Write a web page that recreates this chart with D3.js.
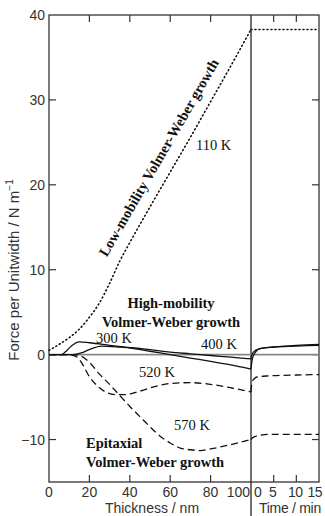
<!DOCTYPE html>
<html><head><meta charset="utf-8">
<script src="https://cdn.jsdelivr.net/npm/d3@7"></script>
<style>body{margin:0;background:#fff}svg{display:block}</style>
</head><body>
<script>
// ---- data ----
const thickTicks = [0,20,40,60,80,100];
const timeTicks = [0,5,10,15];
const forceTicks = [40,30,20,10,0,-10];

const t110 = [0,5,10,15,20,25,30,35,40,50,60,70,80,90,100];
const f110 = [0.5,1.2,2.0,3.0,4.4,6.1,8.4,11.0,13.2,17.4,21.5,25.6,29.8,34.0,38.3];
const r110t = [0,15];
const r110f = [38.3,38.3];

const t300 = [0,6,8,11,15,20,30,40,50,60,70,80,90,100];
const f300 = [0,0,0.3,1.0,1.5,1.4,1.1,0.8,0.4,0,-0.4,-0.8,-1.2,-1.7];
const r300t = [0,0.3,1,2,5,10,15];
const r300f = [-1.7,-0.5,0.3,0.7,0.9,1.1,1.2];

const t400 = [0,12,16,20,26,35,50,60,70,80,90,100];
const f400 = [0,0,0.2,0.6,1.0,0.9,0.6,0.3,0.1,-0.1,-0.3,-0.5];
const r400t = [0,0.3,1,2,5,10,15];
const r400f = [-0.5,0.1,0.5,0.7,0.9,1.0,1.1];

const t520 = [0,10,14,17,20,24,28,33,38,45,55,60,70,80,90,100];
const f520 = [0,0,-0.3,-1.3,-2.6,-3.7,-4.4,-4.7,-4.7,-4.3,-3.6,-3.4,-3.3,-3.5,-3.9,-4.4];
const r520t = [0,0.2,0.6,1.5,4,10,15];
const r520f = [-4.4,-3.3,-2.9,-2.6,-2.5,-2.4,-2.35];

const t570 = [0,12,15,20,25,30,35,40,45,50,55,60,65,70,75,80,90,100];
const f570 = [0,0,-0.1,-0.9,-2.3,-3.5,-4.8,-6.1,-7.3,-8.5,-9.6,-10.4,-11.0,-11.2,-11.3,-11.1,-10.6,-10.0];
const r570t = [0,0.3,2,4,15];
const r570f = [-10.0,-9.8,-9.5,-9.4,-9.4];

// ---- drawing ----
const W=325,H=516;
const svg=d3.select("body").append("svg").attr("width",W).attr("height",H);
const xL=d3.scaleLinear([0,100],[49,251]);
const xR=d3.scaleLinear([0,15],[251,319]);
const y=d3.scaleLinear([-15,40],[482,15]);
const axisCol="#333";

// frame
svg.append("rect").attr("x",xL(0)).attr("y",y(40)).attr("width",xR(15)-xL(0)).attr("height",y(-15)-y(40))
  .attr("fill","none").attr("stroke",axisCol).attr("stroke-width",1.3);
svg.append("line").attr("x1",xL(100)).attr("x2",xL(100)).attr("y1",y(40)).attr("y2",H)
  .attr("stroke","#222").attr("stroke-width",1.3);

// ticks (inward)
const tk=7;
const g=svg.append("g").attr("stroke",axisCol).attr("stroke-width",1.2);
[20,40,60,80].forEach(v=>{
  g.append("line").attr("x1",xL(v)).attr("x2",xL(v)).attr("y1",y(40)).attr("y2",y(40)+tk);
  g.append("line").attr("x1",xL(v)).attr("x2",xL(v)).attr("y1",y(-15)).attr("y2",y(-15)-tk);
});
[5,10].forEach(v=>{
  g.append("line").attr("x1",xR(v)).attr("x2",xR(v)).attr("y1",y(40)).attr("y2",y(40)+tk);
  g.append("line").attr("x1",xR(v)).attr("x2",xR(v)).attr("y1",y(-15)).attr("y2",y(-15)-tk);
});
[30,20,10,0,-10].forEach(v=>{
  g.append("line").attr("x1",xL(0)).attr("x2",xL(0)+tk).attr("y1",y(v)).attr("y2",y(v));
  g.append("line").attr("x1",xR(15)).attr("x2",xR(15)-tk).attr("y1",y(v)).attr("y2",y(v));
});

// tick labels
const sans="'Liberation Sans', Arial, sans-serif";
svg.append("g").selectAll("text").data(forceTicks).join("text")
  .attr("x",xL(0)-4).attr("y",d=>y(d)).attr("dy","0.36em").attr("text-anchor","end")
  .attr("font-family",sans).attr("font-size",14).attr("fill","#333")
  .text(d=>d<0?"\u2212"+Math.abs(d):d);
svg.append("g").selectAll("text").data(thickTicks).join("text")
  .attr("x",d=>xL(d)-(d===100?1:0)).attr("y",497).attr("text-anchor",d=>d===100?"end":"middle")
  .attr("font-family",sans).attr("font-size",14).attr("fill","#333").text(d=>d);
svg.append("g").selectAll("text").data(timeTicks).join("text")
  .attr("x",d=>d===0?xR(0)+3:(d===15?xR(15)+3:xR(d)-1)).attr("y",497)
  .attr("text-anchor",d=>d===0?"start":(d===15?"end":"middle"))
  .attr("font-family",sans).attr("font-size",14).attr("letter-spacing",-0.5).attr("fill","#333").text(d=>d);
svg.append("text").attr("x",152).attr("y",513).attr("text-anchor","middle")
  .attr("font-family",sans).attr("font-size",14).attr("fill","#333").text("Thickness  /  nm");
svg.append("text").attr("x",290).attr("y",513).attr("text-anchor","middle")
  .attr("font-family",sans).attr("font-size",14).attr("letter-spacing",-0.3).attr("fill","#333").text("Time / min");
const yl=svg.append("text").attr("transform","translate(19,270) rotate(-90)").attr("text-anchor","middle")
  .attr("font-family",sans).attr("font-size",15).attr("fill","#333");
yl.append("tspan").text("Force per Unitwidth  /  N m");
yl.append("tspan").attr("font-size",10).attr("dy",-6).text("\u22121");

// zero line
svg.append("line").attr("x1",xL(0)).attr("x2",xR(15)).attr("y1",y(0)).attr("y2",y(0))
  .attr("stroke","#888").attr("stroke-width",1.6);

// curves
const lineL=d3.line().x(d=>xL(d[0])).y(d=>y(d[1])).curve(d3.curveMonotoneX);
const lineR=d3.line().x(d=>xR(d[0])).y(d=>y(d[1])).curve(d3.curveMonotoneX);
const zip=(a,b)=>a.map((v,i)=>[v,b[i]]);
function draw(ts,fs,rt,rf,dash,w){
  [[lineL,zip(ts,fs)],[lineR,zip(rt,rf)]].forEach(([ln,d])=>{
    svg.append("path").attr("d",ln(d)).attr("fill","none").attr("stroke","#111")
      .attr("stroke-width",w).attr("stroke-dasharray",dash).attr("stroke-linecap",dash==="1,3"?"round":"butt");
  });
}
draw(t110,f110,r110t,r110f,"1,3",1.6);
draw(t300,f300,r300t,r300f,null,1.3);
draw(t400,f400,r400t,r400f,null,1.3);
draw(t520,f520,r520t,r520f,"7,4",1.3);
draw(t570,f570,r570t,r570f,"7,4",1.3);

// annotations
const serif="'Liberation Serif','Times New Roman',serif";
function txt(x,yy,s,bold,anchor){
  return svg.append("text").attr("x",x).attr("y",yy).attr("text-anchor",anchor||"start")
    .attr("font-family",serif).attr("font-size",14.5).attr("font-weight",bold?"bold":"normal").attr("fill","#111").text(s);
}
svg.append("text").attr("transform","translate(163,160) rotate(-60)").attr("text-anchor","middle")
  .attr("font-family",serif).attr("font-size",14.5).attr("font-weight","bold").attr("fill","#111")
  .text("Low-mobility Volmer-Weber growth");
txt(196,150,"110 K");
txt(171,308,"High-mobility",true,"middle");
txt(171,327,"Volmer-Weber growth",true,"middle");
txt(96,343,"300 K");
txt(201,349,"400 K");
txt(139,377,"520 K");
txt(174,430,"570 K");
txt(86,448,"Epitaxial",true);
txt(86,467,"Volmer-Weber growth",true);
</script>
</body></html>
